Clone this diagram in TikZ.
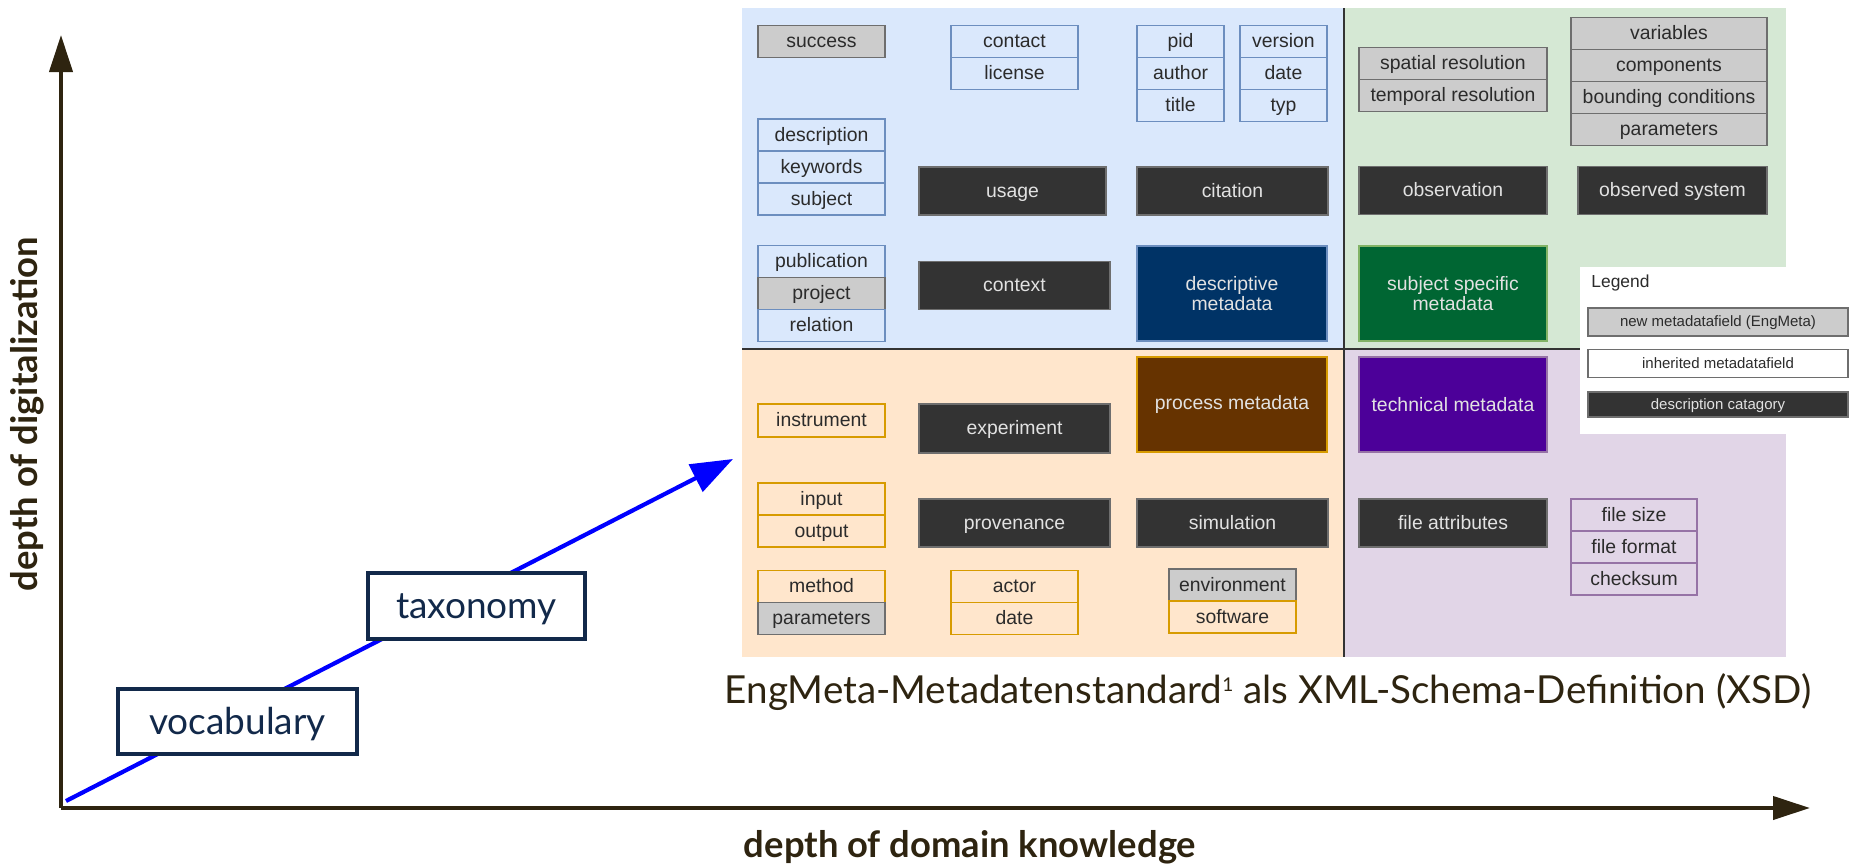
\documentclass[tikz,border=0pt]{standalone}
\usepackage{fontspec}
\setmainfont{Lato}
\newfontfamily\arialfont{Liberation Sans}
\usetikzlibrary{positioning,arrows.meta}

\definecolor{axiscol}{HTML}{2E2410}
\definecolor{navy}{HTML}{12294A}
\definecolor{flowblue}{HTML}{0000FF}
\definecolor{bluefill}{HTML}{DAE8FC}
\definecolor{bluedraw}{HTML}{6C8EBF}
\definecolor{greenfill}{HTML}{D5E8D4}
\definecolor{greendraw}{HTML}{82B366}
\definecolor{orangefill}{HTML}{FFE6CC}
\definecolor{orangedraw}{HTML}{D79B00}
\definecolor{purplefill}{HTML}{E1D5E7}
\definecolor{purpledraw}{HTML}{9673A6}
\definecolor{grayfill}{HTML}{CCCCCC}
\definecolor{graydraw}{HTML}{6E6E6E}
\definecolor{darkfill}{HTML}{333333}
\definecolor{darktext}{HTML}{E2E2E2}
\definecolor{fieldtext}{HTML}{2B2B2B}
\definecolor{descfill}{HTML}{003366}
\definecolor{subjfill}{HTML}{006633}
\definecolor{procfill}{HTML}{663300}
\definecolor{techfill}{HTML}{4C0099}

\newcommand\fieldsize{\arialfont\fontsize{9.7pt}{10.2pt}\selectfont}
\newcommand\legendsize{\arialfont\fontsize{7.5pt}{9pt}\selectfont}

\tikzset{
  field/.style={draw, rectangle, inner sep=0pt, outer sep=0pt, line width=0.8pt,
    minimum width=63.5pt, minimum height=16pt, text height=8.5pt, text depth=2.5pt,
    font=\fieldsize, text=fieldtext},
  blue field/.style={field, draw=bluedraw, fill=bluefill},
  orange field/.style={field, draw=orangedraw, fill=orangefill},
  purple field/.style={field, draw=purpledraw, fill=purplefill},
  new field/.style={field, draw=graydraw, fill=grayfill},
  category/.style={draw=graydraw, fill=darkfill, rectangle, inner sep=0pt, outer sep=0pt,
    line width=0.8pt, minimum width=95.5pt, minimum height=24pt, text height=8.5pt, text depth=2.5pt,
    font=\fieldsize, text=darktext},
  group/.style={draw, rectangle, inner sep=0pt, outer sep=0pt, line width=0.8pt,
    minimum width=95pt, minimum height=47.5pt, align=center, font=\fieldsize, text=darktext},
  legend field/.style={draw=graydraw, rectangle, inner sep=0pt, outer sep=0pt, line width=0.8pt,
    minimum width=130pt, minimum height=14pt, text height=6.6pt, text depth=1.9pt,
    font=\legendsize, text=fieldtext},
  level/.style={draw=navy, fill=white, line width=1.8pt, rectangle, inner sep=0pt,
    text height=16pt, text depth=3.5pt, text=navy, font=\fontsize{18.5pt}{20pt}\selectfont},
  axis/.style={draw=axiscol, line width=2pt, -{Triangle[length=18.5pt,width=11.5pt]}},
  axis label/.style={text=axiscol, font=\bfseries\fontsize{18.2pt}{20pt}\selectfont},
}

\begin{document}
\begin{tikzpicture}[x=0.5pt,y=-0.5pt]
  \useasboundingbox (0,0) rectangle (1849,867);

  % axes
  \coordinate (o) at (61,808);
  \coordinate (ytop) at (61,35);
  \coordinate (xend) at (1810,808);
  \draw[axis] (o) -- (ytop);
  \draw[axis] (o) -- (xend);
  \node[axis label, rotate=90] (ylabel) at (27,414) {depth of digitalization};
  \node[axis label] (xlabel) at (970,847) {depth of domain knowledge};

  % path through the levels
  \coordinate (start) at (66,801);
  \coordinate (tip) at (733,459);
  \draw[flowblue, line width=2.1pt, -{Triangle[length=21pt,width=15pt]}] (start) -- (tip);
  \node[level, minimum width=119.5pt, minimum height=32.5pt] (vocabulary) at (237.5,721.5) {vocabulary};
  \node[level, minimum width=108.5pt, minimum height=33pt] (taxonomy) at (476.5,606) {taxonomy};

  % quadrants
  \fill[bluefill] (742,8) rectangle (1344,349);
  \fill[greenfill] (1344,8) rectangle (1786,349);
  \fill[orangefill] (742,349) rectangle (1344,657);
  \fill[purplefill] (1344,349) rectangle (1786,657);
  \fill[white] (1580,267) rectangle (1849,434);
  \draw[darkfill, line width=1pt] (1344,8) -- (1344,657);
  \draw[darkfill, line width=1pt] (742,349) -- (1580,349);

  % descriptive metadata
  \node[new field] (success) at (821.5,41.5) {success};
  \node[blue field] (contact) at (1014.5,41.5) {contact};
  \node[blue field, below=0pt of contact] (license) {license};
  \node[blue field, minimum width=43.5pt] (pid) at (1180.5,41.5) {pid};
  \node[blue field, minimum width=43.5pt, below=0pt of pid] (author) {author};
  \node[blue field, minimum width=43.5pt, below=0pt of author] (title) {title};
  \node[blue field, minimum width=43.5pt] (version) at (1283.5,41.5) {version};
  \node[blue field, minimum width=43.5pt, below=0pt of version] (date) {date};
  \node[blue field, minimum width=43.5pt, below=0pt of date] (typ) {typ};
  \node[blue field] (description) at (821.5,135) {description};
  \node[blue field, below=0pt of description] (keywords) {keywords};
  \node[blue field, below=0pt of keywords] (subjectfield) {subject};
  \node[category, minimum width=93.5pt] (usage) at (1012.5,191) {usage};
  \node[category] (citation) at (1232.5,191) {citation};
  \node[blue field] (publication) at (821.5,261.5) {publication};
  \node[new field, below=0pt of publication] (project) {project};
  \node[blue field, below=0pt of project] (relation) {relation};
  \node[category] (context) at (1014.5,285.5) {context};
  \node[group, fill=descfill, draw=bluedraw] (descriptive) at (1232,293.5) {descriptive\\metadata};

  % subject specific metadata
  \node[new field, minimum width=94pt] (spatial) at (1453,63.5) {spatial resolution};
  \node[new field, minimum width=94pt, below=0pt of spatial] (temporal) {temporal resolution};
  \node[new field, minimum width=98pt] (variables) at (1669,33.5) {variables};
  \node[new field, minimum width=98pt, below=0pt of variables] (components) {components};
  \node[new field, minimum width=98pt, below=0pt of components] (bounding) {bounding conditions};
  \node[new field, minimum width=98pt, below=0pt of bounding] (obsparams) {parameters};
  \node[category, minimum width=94pt] (observation) at (1453,190.5) {observation};
  \node[category, minimum width=94.5pt] (observed) at (1672.5,190.5) {observed system};
  \node[group, fill=subjfill, draw=greendraw, minimum width=94pt] (subject) at (1453,293.5) {subject specific\\metadata};

  % process metadata
  \node[orange field, minimum height=16.5pt] (instrument) at (821.5,420.5) {instrument};
  \node[category, minimum height=24.5pt] (experiment) at (1014.5,428.5) {experiment};
  \node[group, fill=procfill, draw=orangedraw] (process) at (1232,404.5) {process metadata};
  \node[orange field] (input) at (821.5,499) {input};
  \node[orange field, below=0pt of input] (output) {output};
  \node[category] (provenance) at (1014.5,523) {provenance};
  \node[category] (simulation) at (1232.5,523) {simulation};
  \node[orange field] (method) at (821.5,586.5) {method};
  \node[new field, below=0pt of method] (parameters) {parameters};
  \node[orange field] (actor) at (1014.5,586.5) {actor};
  \node[orange field, below=0pt of actor] (actordate) {date};
  \node[new field] (environment) at (1232.5,585) {environment};
  \node[orange field, below=0pt of environment] (software) {software};

  % technical metadata
  \node[group, fill=techfill, draw=purpledraw, minimum width=94pt] (technical) at (1453,404.5) {technical metadata};
  \node[category, minimum width=94pt] (fileattr) at (1453,523) {file attributes};
  \node[purple field, minimum width=63pt] (filesize) at (1634,515) {file size};
  \node[purple field, minimum width=63pt, below=0pt of filesize] (fileformat) {file format};
  \node[purple field, minimum width=63pt, below=0pt of fileformat] (checksum) {checksum};

  % legend
  \node[anchor=west, inner sep=0pt, text=fieldtext, font=\arialfont\fontsize{8.7pt}{10pt}\selectfont] (legend) at (1591,283) {Legend};
  \node[legend field, fill=grayfill] (newkey) at (1718,322) {new metadatafield (EngMeta)};
  \node[legend field, fill=white] (oldkey) at (1718,363.5) {inherited metadatafield};
  \node[legend field, fill=darkfill, text=darktext, minimum height=12.5pt] (catkey) at (1718,404.5) {description catagory};

  % caption
  \node[text=axiscol, font=\fontsize{19.3pt}{21pt}\selectfont] (caption) at (1268,692)
    {EngMeta-Metadatenstandard{\fontsize{9.5pt}{9.5pt}\selectfont\raisebox{6pt}{1}} als XML-Schema-Definition (XSD)};
\end{tikzpicture}
\end{document}
